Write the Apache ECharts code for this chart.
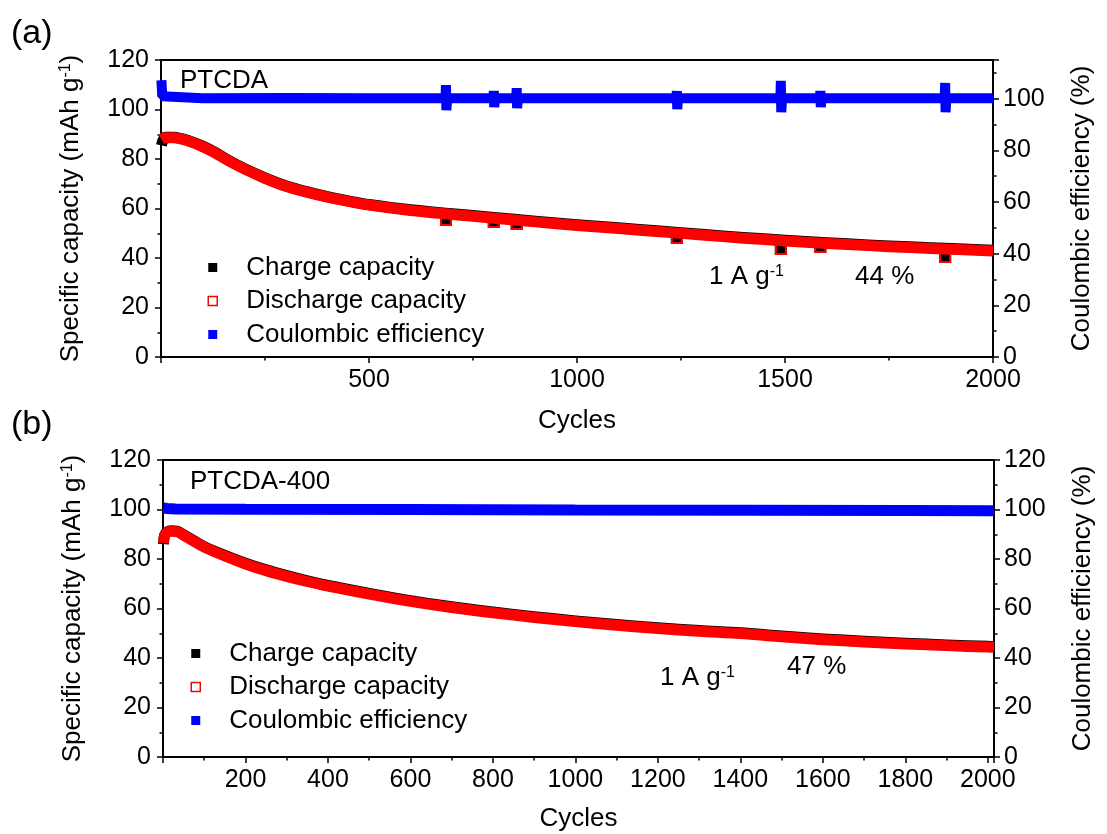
<!DOCTYPE html>
<html>
<head>
<meta charset="utf-8">
<script src="https://cdn.jsdelivr.net/npm/echarts@6/dist/echarts.min.js"></script>
<style>
  html, body { margin: 0; padding: 0; background: #fff; }
  #chart { width: 1107px; height: 834px; }
</style>
</head>
<body>
<div id="chart"></div>
<script>
// ---- Panel (a): PTCDA, 1 A g-1 ----
const capCyclesA = [1, 10, 30, 50, 70, 100, 130, 160, 200, 250, 300, 350, 400, 450, 500, 600, 700, 800, 900, 1000, 1100, 1200, 1300, 1400, 1500, 1600, 1700, 1800, 1900, 2000];
const chargeA    = [85.5, 88.8, 88.8, 88.2, 87.2, 85.2, 82.7, 79.7, 76.2, 72.4, 69.2, 66.8, 64.8, 63.1, 61.6, 59.5, 57.9, 56.4, 54.9, 53.4, 52.2, 50.9, 49.6, 48.3, 47.2, 46.2, 45.3, 44.5, 43.8, 43.1];
const dischargeA = [88.0, 88.6, 88.6, 88.0, 87.0, 85.0, 82.5, 79.5, 76.0, 72.2, 69.0, 66.6, 64.6, 62.9, 61.4, 59.2, 57.6, 56.1, 54.6, 53.1, 51.9, 50.6, 49.3, 48.0, 46.9, 45.9, 45.0, 44.2, 43.5, 42.8];
// isolated low-capacity cycles
const outCyclesA    = [685, 800, 855, 1240, 1490, 1585, 1885];
const outChargeA    = [55.4, 54.5, 53.7, 48.1, 43.6, 44.4, 40.4];
const outDischargeA = [55.4, 54.5, 53.7, 48.1, 43.6, 44.4, 40.4];
// coulombic efficiency (%), with the scattered cycles around the outliers
const ceCyclesA = [1, 3, 6, 100, 300, 500, 684, 685, 686, 688, 799, 800, 801, 803, 854, 855, 856, 858, 1000, 1239, 1240, 1241, 1243, 1489, 1490, 1491, 1493, 1584, 1585, 1586, 1588, 1884, 1885, 1886, 1888, 2000];
const ceA       = [107.2, 101, 100.3, 100.2, 100.3, 100.2, 100.2, 105.3, 95.6, 100.2, 100.2, 103.0, 96.8, 100.2, 100.2, 104.1, 96.4, 100.2, 100.2, 100.2, 103.0, 96.0, 100.2, 100.2, 106.9, 94.8, 100.2, 100.2, 103.0, 96.8, 100.2, 100.2, 106.1, 94.8, 100.2, 100.2];

// ---- Panel (b): PTCDA-400, 1 A g-1 ----
const capCyclesB = [1, 4, 10, 20, 35, 50, 75, 100, 150, 200, 250, 300, 350, 400, 500, 600, 700, 800, 900, 1000, 1100, 1200, 1300, 1400, 1500, 1600, 1700, 1800, 1900, 2000, 2015];
const chargeB    = [86.0, 89.7, 91.0, 91.4, 91.2, 89.8, 87.4, 85.0, 81.5, 78.3, 75.6, 73.3, 71.2, 69.3, 66.1, 63.2, 60.7, 58.6, 56.7, 55.0, 53.5, 52.2, 51.1, 50.2, 48.9, 47.7, 46.8, 46.0, 45.3, 44.7, 44.6];
const dischargeB = [86.5, 89.5, 90.8, 91.2, 91.0, 89.6, 87.2, 84.8, 81.2, 78.0, 75.3, 73.0, 70.9, 69.0, 65.8, 62.9, 60.4, 58.3, 56.4, 54.7, 53.2, 51.9, 50.8, 49.9, 48.6, 47.4, 46.5, 45.7, 45.0, 44.4, 44.3];
const ceCyclesB = [1, 10, 30, 200, 600, 1000, 1400, 1800, 2015];
const ceB       = [100.6, 100.4, 100.2, 100.1, 100.0, 99.8, 99.7, 99.6, 99.5];

// ---- axis ticks ----
const xTicksA = { min: 0, max: 2000, interval: 500 };
const xTicksB = { min: 0, max: 2015, interval: 200 };
const capTicks = { min: 0, max: 120, interval: 20 };
const ceTicksA = { min: 0, max: 115, interval: 20 };
const ceTicksB = { min: 0, max: 120, interval: 20 };

const legendNames = ['Charge capacity', 'Discharge capacity', 'Coulombic efficiency'];
const capTitle = '{t|Specific capacity (mAh g}{s|-1}{t|)}';
const ceTitle = 'Coulombic efficiency (%)';

const FONT = "'Liberation Sans', Arial, Helvetica, sans-serif";
const RED = '#ff0000', BLUE = '#0000ff', BLACK = '#000000';

const pairs = (xs, ys) => xs.map((x, i) => [x, ys[i]]);

function axisBase(ticks, labelMargin) {
  return {
    type: 'value',
    min: ticks.min, max: ticks.max, interval: ticks.interval,
    splitLine: { show: false },
    axisLine: { show: true, onZero: false, lineStyle: { color: BLACK, width: 2 } },
    axisTick: { show: true, inside: false, length: 6, lineStyle: { color: BLACK, width: 1.5 } },
    minorTick: { show: true, splitNumber: 2, length: 3.5, lineStyle: { color: BLACK, width: 1.5 } },
    axisLabel: { color: BLACK, fontSize: 25, fontFamily: FONT, margin: labelMargin, showMinLabel: true,
                 formatter: v => String(v) },
  };
}

function xAxis(grid, ticks, gap) {
  const a = axisBase(ticks, 11);
  a.gridIndex = grid;
  a.position = 'bottom';
  a.axisLabel.showMinLabel = false;
  a.axisLabel.showMaxLabel = ticks.max % ticks.interval === 0;
  a.name = 'Cycles';
  a.nameLocation = 'middle';
  a.nameGap = gap;
  a.nameTextStyle = { color: BLACK, fontSize: 26, fontFamily: FONT };
  return a;
}

function yLeft(grid) {
  const a = axisBase(capTicks, 12);
  a.gridIndex = grid;
  a.position = 'left';
  a.name = capTitle;
  a.nameLocation = 'middle';
  a.nameGap = 77;
  a.nameTextStyle = {
    color: BLACK, fontFamily: FONT,
    rich: {
      t: { fontSize: 26, fontFamily: FONT, color: BLACK },
      s: { fontSize: 16, fontFamily: FONT, color: BLACK, verticalAlign: 'top' }
    }
  };
  return a;
}

function yRight(grid, ticks) {
  const a = axisBase(ticks, 10);
  a.gridIndex = grid;
  a.position = 'right';
  a.axisLabel.showMaxLabel = ticks.max % ticks.interval === 0;
  a.name = ceTitle;
  a.nameLocation = 'middle';
  a.nameGap = 76;
  a.nameRotate = 90;
  a.nameTextStyle = { color: BLACK, fontSize: 26, fontFamily: FONT };
  return a;
}

function capLine(name, xi, yi, xs, ys, color) {
  return {
    name, type: 'line', xAxisIndex: xi, yAxisIndex: yi,
    data: pairs(xs, ys), symbol: 'none', smooth: 0.3,
    lineStyle: { color, width: 11, join: 'round' }, itemStyle: { color },
    silent: true
  };
}

function outliers(name, xi, yi, xs, ys, fill, border) {
  return {
    name, type: 'scatter', xAxisIndex: xi, yAxisIndex: yi,
    data: pairs(xs, ys), symbol: 'rect', symbolSize: 10,
    itemStyle: { color: fill, borderColor: border, borderWidth: 2, opacity: 1 },
    silent: true
  };
}

function ceLine(xi, yi, xs, ys, width) {
  return {
    name: legendNames[2], type: 'line', xAxisIndex: xi, yAxisIndex: yi,
    data: pairs(xs, ys), symbol: 'none', smooth: false,
    lineStyle: { color: BLUE, width, join: 'bevel', cap: 'butt' }, itemStyle: { color: BLUE },
    silent: true
  };
}

function legend(left, top) {
  return {
    orient: 'vertical', left, top, padding: 0,
    itemWidth: 9, itemHeight: 9, itemGap: 7.5,
    selectedMode: false,
    textStyle: { color: BLACK, fontSize: 26, fontFamily: FONT, lineHeight: 25, padding: [0, 0, 0, 24] },
    data: [
      { name: legendNames[0], icon: 'rect', itemStyle: { color: BLACK, borderWidth: 0 } },
      { name: legendNames[1], icon: 'rect', itemStyle: { color: '#ffffff', borderColor: RED, borderWidth: 1.5 } },
      { name: legendNames[2], icon: 'rect', itemStyle: { color: BLUE, borderWidth: 0 } }
    ]
  };
}

function label(text, x, y, size, rich) {
  return {
    type: 'text', x, y, silent: true,
    style: { text, fontSize: size, fontFamily: FONT, fill: BLACK, align: 'left', verticalAlign: 'middle', rich }
  };
}
const supRich = {
  n: { fontSize: 26, fontFamily: FONT, color: BLACK },
  s: { fontSize: 16, fontFamily: FONT, color: BLACK, verticalAlign: 'top' }
};

const option = {
  animation: false,
  backgroundColor: '#ffffff',
  grid: [
    { left: 161, top: 60, width: 832, height: 297, show: true, borderColor: BLACK, borderWidth: 2, backgroundColor: 'transparent', containLabel: false },
    { left: 163, top: 460, width: 831, height: 297, show: true, borderColor: BLACK, borderWidth: 2, backgroundColor: 'transparent', containLabel: false }
  ],
  xAxis: [xAxis(0, xTicksA, 51), xAxis(1, xTicksB, 49)],
  yAxis: [yLeft(0), yRight(0, ceTicksA), yLeft(1), yRight(1, ceTicksB)],
  legend: [legend(207.5, 254.5), legend(190.5, 640.5)],
  series: [
    capLine(legendNames[0], 0, 0, capCyclesA, chargeA, BLACK),
    outliers(legendNames[0], 0, 0, outCyclesA, outChargeA, BLACK, BLACK),
    capLine(legendNames[1], 0, 0, capCyclesA, dischargeA, RED),
    outliers(legendNames[1], 0, 0, outCyclesA, outDischargeA, 'rgba(0,0,0,0)', RED),
    ceLine(0, 1, ceCyclesA, ceA, 10),

    capLine(legendNames[0], 1, 2, capCyclesB, chargeB, BLACK),
    capLine(legendNames[1], 1, 2, capCyclesB, dischargeB, RED),
    ceLine(1, 3, ceCyclesB, ceB, 11)
  ],
  graphic: [
    label('(a)', 11, 34, 34),
    label('(b)', 11, 425, 34),
    label('PTCDA', 180, 81, 26),
    label('PTCDA-400', 190, 482, 26),
    label('{n|1 A g}{s|-1}', 709, 277, 26, supRich),
    label('44 %', 855, 277, 26),
    label('{n|1 A g}{s|-1}', 660, 678, 26, supRich),
    label('47 %', 787, 667, 26)
  ]
};

const chart = echarts.init(document.getElementById('chart'), null, { renderer: 'canvas' });
chart.setOption(option);
</script>
</body>
</html>
